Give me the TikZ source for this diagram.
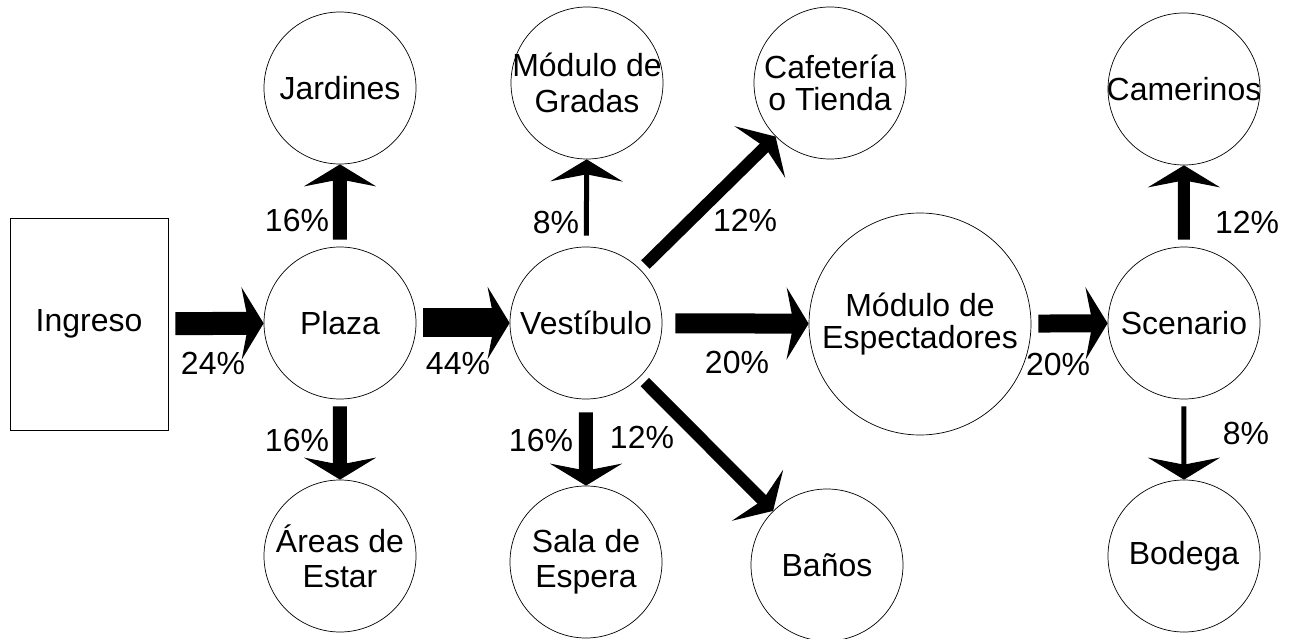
\documentclass[tikz,border=0pt]{standalone}
\usepackage{fontspec}
\setmainfont{Liberation Sans}
\usetikzlibrary{arrows.meta}

\begin{document}
\begin{tikzpicture}[scale=0.2]
	\tikzstyle{every node}+=[inner sep=0pt, font=\fontsize{18.2}{19.8}\selectfont]
	\tikzstyle{room}=[draw=black, circle, inner sep=-4pt, minimum size=3.04cm, align=center]
	\tikzstyle{flow}=[black, -{Stealth[length=0.44cm,width=1.44cm,inset=0.14cm]}, shorten <=0.14cm]
	\useasboundingbox (0,0) rectangle (129,-63.9);
	\node [draw=black, minimum width=3.16cm, minimum height=4.24cm] (ing) at (8.9,-32.4) {Ingreso};
	\node [room] (pla) at (34,-32.3) {Plaza};
	\node [room] (jar) at (34,-8.8) {Jardines};
	\node [room] (are) at (34,-55.6) {Áreas de\\Estar};
	\node [room] (ves) at (58.6,-32.3) {Vestíbulo};
	\node [room] (gra) at (58.7,-8.3) {Módulo de\\[1pt]Gradas};
	\node [room] (sal) at (58.6,-56.2) {Sala de\\Espera};
	\node [room] (caf) at (83,-8.3) {Cafetería\\[-2pt]o Tienda};
	\node [room] (ban) at (82.7,-56.5) {Baños};
	\node [room, minimum size=4.44cm] (esp) at (92,-32.4) {Módulo de\\[-2pt]Espectadores};
	\node [room] (sce) at (118.4,-32.3) {Scenario};
	\node [room] (cam) at (118.4,-8.9) {Camerinos};
	\node [room] (bod) at (118.4,-55.6) {Bodega};
	\draw [flow, line width=0.46cm] (ing) -- (pla);
	\draw [flow, line width=0.58cm] (pla) -- (ves);
	\draw [flow, line width=0.28cm] (pla) -- (jar);
	\draw [flow, line width=0.28cm] (pla) -- (are);
	\draw [flow, line width=0.1cm, shorten <=0.22cm] (ves) -- (gra);
	\draw [flow, line width=0.24cm] (ves) -- (caf);
	\draw [flow, line width=0.4cm, shorten <=0.26cm] (ves) -- (esp);
	\draw [flow, line width=0.28cm, shorten <=0.26cm] (ves) -- (sal);
	\draw [flow, line width=0.24cm] (ves) -- (ban);
	\draw [flow, line width=0.36cm] (esp) -- (sce);
	\draw [flow, line width=0.24cm] (sce) -- (cam);
	\draw [flow, line width=0.1cm] (sce) -- (bod);
	\node (p24) at (21.3,-36.3) {24\%};
	\node (p44) at (45.8,-36.3) {44\%};
	\node (p16a) at (29.7,-22) {16\%};
	\node (p16b) at (29.7,-44) {16\%};
	\node (p8a) at (55.6,-22.2) {8\%};
	\node (p12a) at (74.5,-22) {12\%};
	\node (p20a) at (73.7,-36.2) {20\%};
	\node (p16c) at (54.1,-44) {16\%};
	\node (p12b) at (64.2,-43.7) {12\%};
	\node (p20b) at (105.8,-36.4) {20\%};
	\node (p12c) at (124.7,-22.2) {12\%};
	\node (p8b) at (124.6,-43.3) {8\%};
\end{tikzpicture}
\end{document}
